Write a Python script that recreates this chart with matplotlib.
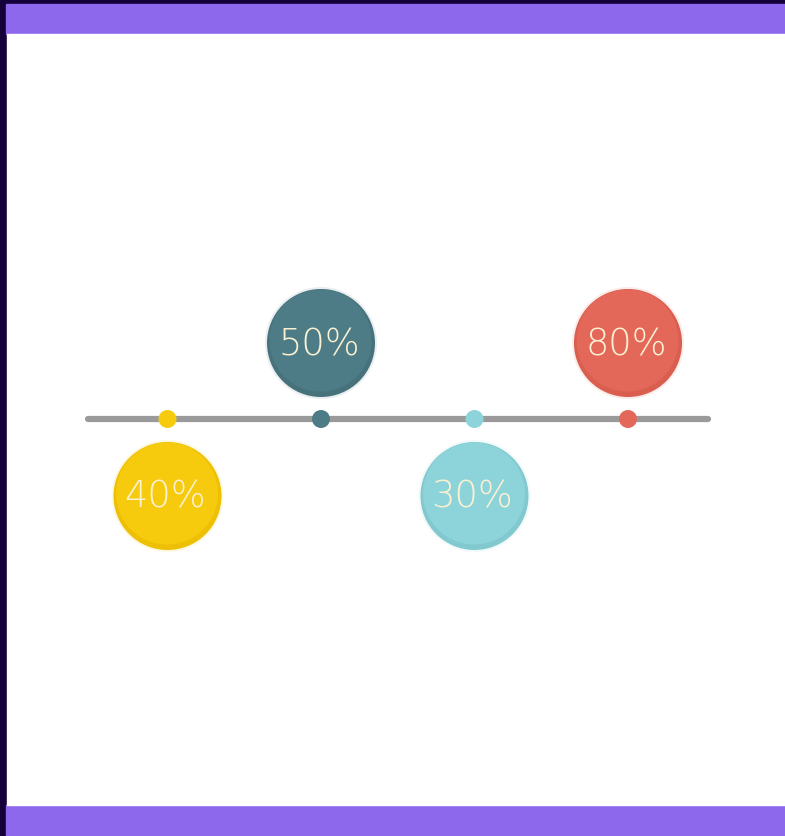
import matplotlib.pyplot as plt
from matplotlib.patches import Circle, Rectangle

# timeline milestones
labels = ["40%", "50%", "30%", "80%"]
values = [40, 50, 30, 80]
colors = ["#F6CB0E", "#4E7C86", "#8DD4DA", "#E3685A"]
shades = ["#EDBF05", "#47727C", "#82C9CF", "#D95E50"]

W, H = 785, 836
fig = plt.figure(figsize=(W / 100, H / 100), dpi=100)
ax = fig.add_axes([0, 0, 1, 1])
ax.set_xlim(0, W)
ax.set_ylim(H, 0)
ax.axis("off")

# frame: dark edge, purple bands, white card
ax.add_patch(Rectangle((0, 0), W, H, color="#14003A", zorder=0))
ax.add_patch(Rectangle((6, 4), W - 6, 30, color="#8E68EC", zorder=1))
ax.add_patch(Rectangle((6, 805), W - 6, 31, color="#8E68EC", zorder=1))
ax.add_patch(Rectangle((7, 34), W - 7, 771, color="white", zorder=1))

line_y = 419
x0, x1 = 88, 708
ax.plot([x0, x1], [line_y, line_y], color="#9A9A9A", lw=4.5,
        solid_capstyle="round", zorder=2)

step = 153.5
first = 167.5
r = 54
for i, (lab, v) in enumerate(zip(labels, values)):
    x = first + i * step
    up = i % 2 == 1
    cy = line_y - 76 if up else line_y + 77
    # soft halo
    ax.add_patch(Circle((x, cy), r + 2, color=colors[i], alpha=0.12,
                        lw=0, zorder=3))
    ax.add_patch(Circle((x, cy), r, color=shades[i], lw=0, zorder=4))
    ax.add_patch(Circle((x - 0.5, cy - 2.5), r - 3, color=colors[i], lw=0,
                        zorder=5))
    ax.text(x - 2, cy + 1, lab, ha="center", va="center", fontsize=26.5,
            family="DejaVu Sans", weight="light", color="#FBF1D2", zorder=6)
    ax.add_patch(Circle((x, line_y), 9, color=colors[i], lw=0, zorder=6))

fig.savefig("out.png", dpi=100)
